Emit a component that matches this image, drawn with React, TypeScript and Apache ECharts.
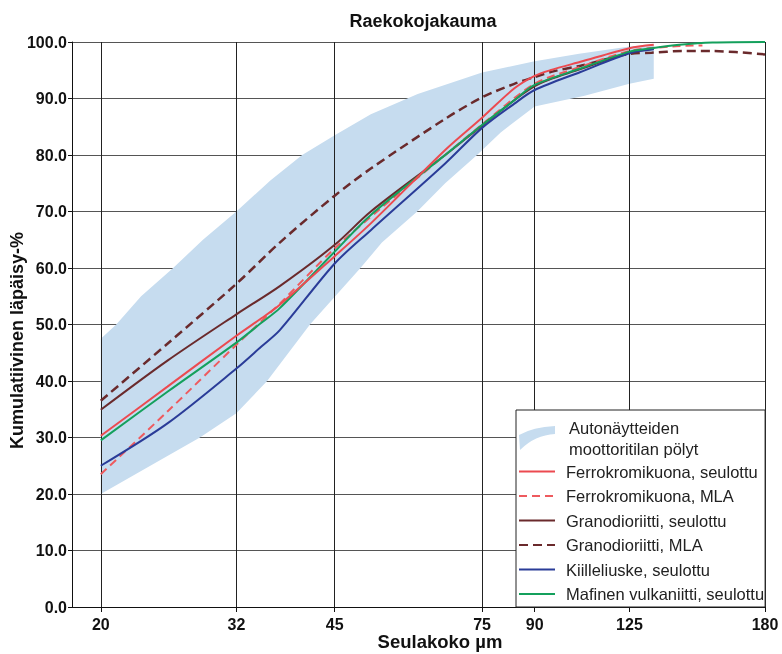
import React, { useEffect, useRef } from 'react';
import * as echarts from 'echarts';

const xTickValues = [20, 32, 45, 75, 90, 125, 200];
const xTickLabels = ['20', '32', '45', '75', '90', '125', '180'];

const bandName = 'Autonäytteiden moottoritilan pölyt';
const bandUpperX = [20, 21.1, 23, 25.7, 28.5, 32, 36, 40.2, 45, 51, 60, 75, 90, 105, 125, 136];
const bandUpperY = [47.5, 50, 55, 60, 65, 70, 75.5, 80, 83.5, 87.2, 90.8, 94.6, 96.6, 97.9, 99.2, 99.6];
const bandLowerX = [20, 24, 28.2, 32, 35.6, 41.3, 49.2, 53, 59.9, 66, 73.7, 80, 90, 107, 125, 136];
const bandLowerY = [20, 25.3, 30, 34.3, 40, 50, 60, 64.5, 70, 75, 80, 84, 88.6, 90.5, 92.6, 93.5];

const ferroSeulX = [20, 25.2, 32, 34.9, 37.2, 45, 51, 66, 75, 83.9, 90, 95, 105.5, 125, 136];
const ferroSeulY = [30.3, 39.0, 48.0, 51.1, 53.5, 62.1, 67.9, 80.9, 86.6, 91.8, 94.0, 95.0, 96.5, 98.9, 99.5];

const ferroMlaX = [20, 25.2, 32, 37.2, 45, 52.6, 66, 75, 90, 105.5, 125, 145, 161];
const ferroMlaY = [23.5, 34.6, 46.4, 53.7, 63.5, 70.4, 80.0, 85.4, 92.6, 95.6, 98.4, 99.2, 99.4];

const granoSeulX = [20, 25.2, 32, 37.2, 45, 51, 66, 75, 90, 105.5, 125, 136];
const granoSeulY = [34.9, 43.6, 51.8, 56.8, 64.1, 70.0, 80.0, 85.2, 92.2, 95.2, 98.1, 98.8];

const granoMlaX = [20, 25.2, 32, 37.2, 45, 51, 66, 75, 83.9, 90, 96, 105.5, 125, 135, 150, 166.7, 200];
const granoMlaY = [36.5, 46.6, 57.2, 64.5, 72.8, 77.6, 86.4, 90.2, 92.6, 93.8, 94.8, 95.8, 97.9, 98.1, 98.4, 98.4, 97.8];

const kiilleX = [20, 25.2, 32, 34.9, 37.2, 45, 51, 66, 75, 83.9, 90, 105.5, 125, 136];
const kiilleY = [25.0, 32.5, 42.2, 46.1, 49.0, 60.8, 66.7, 78.5, 84.8, 89.1, 91.5, 94.7, 98.0, 98.7];

const mafinenX = [20, 25.2, 32, 34.9, 37.2, 45, 51, 66, 75, 83.9, 90, 105.5, 125, 135, 148.6, 166.7, 200];
const mafinenY = [29.5, 38.1, 46.8, 50.3, 52.9, 62.9, 69.4, 80.0, 85.3, 89.7, 92.4, 95.3, 98.3, 98.9, 99.5, 99.9, 100];

const NAMES = {
  ferroSeul: 'Ferrokromikuona, seulottu',
  ferroMla: 'Ferrokromikuona, MLA',
  granoSeul: 'Granodioriitti, seulottu',
  granoMla: 'Granodioriitti, MLA',
  kiille: 'Kiilleliuske, seulottu',
  mafinen: 'Mafinen vulkaniitti, seulottu',
};

const COLORS = {
  band: '#c6dcef',
  red: '#ec4a50',
  redDash: '#ee5a5e',
  brown: '#6a2a2c',
  blue: '#2a3c98',
  green: '#14a05c',
};

export default function App() {
  const ref = useRef<HTMLDivElement>(null);

  useEffect(() => {
    if (!ref.current) return;
    const chart = echarts.init(ref.current, undefined, { renderer: 'svg' });
    const font = "'Liberation Sans', Arial, Helvetica, sans-serif";
    const pairs = (xs: number[], ys: number[]) => xs.map((x, i) => [x, ys[i]]);
    const line = (name: string, xs: number[], ys: number[], color: string, type: any, width: number) => ({
      name,
      type: 'line',
      data: pairs(xs, ys),
      smooth: 0.3,
      symbol: 'none',
      showSymbol: false,
      z: 4,
      lineStyle: { color, width, type },
      itemStyle: { color },
      emphasis: { disabled: true },
    });
    const legendLine = (name: string) => ({ name, itemStyle: { opacity: 0 } });

    chart.setOption({
      animation: false,
      title: {
        text: 'Raekokojakauma',
        left: 418,
        top: 7,
        textAlign: 'center',
        textStyle: { fontFamily: font, fontWeight: 'bold', fontSize: 18, color: '#111' },
      },
      grid: { left: 72, right: 17, top: 42, bottom: 47, containLabel: false, outerBoundsMode: 'none' },
      xAxis: {
        type: 'log',
        logBase: 10,
        min: 18.1,
        max: 200,
        z: 3,
        name: 'Seulakoko µm',
        nameLocation: 'middle',
        nameMoveOverlap: false,
        nameGap: 25,
        nameTextStyle: {
          fontFamily: font,
          fontWeight: 'bold',
          fontSize: 18.5,
          color: '#111',
          padding: [0, 0, 0, 43],
        },
        axisLine: { show: true, lineStyle: { color: '#111', width: 1 } },
        axisTick: { show: true, customValues: xTickValues, length: 5, lineStyle: { color: '#111' } },
        axisLabel: {
          customValues: xTickValues,
          margin: 9,
          fontFamily: font,
          fontWeight: 'bold',
          fontSize: 16,
          color: '#111',
          formatter: (v: number) => {
            const i = xTickValues.findIndex((t) => Math.abs(t - v) < 0.5);
            return i >= 0 ? xTickLabels[i] : '';
          },
        },
        splitLine: { show: true, lineStyle: { color: '#222', width: 1 } },
      },
      yAxis: {
        type: 'value',
        min: 0,
        max: 100,
        interval: 10,
        z: 0,
        name: 'Kumulatiivinen läpäisy-%',
        nameLocation: 'middle',
        nameMoveOverlap: false,
        nameGap: 46,
        nameTextStyle: {
          fontFamily: font,
          fontWeight: 'bold',
          fontSize: 18,
          color: '#111',
          padding: [0, 32, 0, 0],
        },
        axisLine: { show: true, lineStyle: { color: '#111', width: 1 } },
        axisTick: { show: true, length: 4, lineStyle: { color: '#111' } },
        axisLabel: {
          margin: 5,
          fontFamily: font,
          fontWeight: 'bold',
          fontSize: 16,
          color: '#111',
          formatter: (v: number) => v.toFixed(1),
        },
        splitLine: { show: true, lineStyle: { color: '#555', width: 1 } },
      },
      legend: {
        orient: 'vertical',
        left: 516,
        top: 410,
        z: 10,
        padding: [7, 1, 1, 2],
        itemGap: 0.5,
        itemWidth: 36,
        itemHeight: 24,
        backgroundColor: '#fff',
        borderColor: '#222',
        borderWidth: 1,
        borderRadius: 0,
        selectedMode: false,
        textStyle: { fontFamily: font, fontSize: 16.5, color: '#222', lineHeight: 24, padding: [0, 0, 0, 6] },
        formatter: (name: string) => (name === bandName ? 'Autonäytteiden\nmoottoritilan pölyt' : name),
        data: [
          {
            name: bandName,
            icon: 'path://M0,9 Q14,1 36,0 L36,8 Q16,9 1,24 Z',
            itemStyle: { color: COLORS.band, opacity: 1 },
            textStyle: { lineHeight: 21, padding: [0, 0, 0, 9] },
          },
          legendLine(NAMES.ferroSeul),
          legendLine(NAMES.ferroMla),
          legendLine(NAMES.granoSeul),
          legendLine(NAMES.granoMla),
          legendLine(NAMES.kiille),
          legendLine(NAMES.mafinen),
        ],
      },
      series: [
        {
          type: 'custom',
          name: bandName,
          coordinateSystem: 'cartesian2d',
          z: 2,
          silent: true,
          itemStyle: { color: COLORS.band },
          data: pairs(bandUpperX, bandUpperY),
          encode: { x: 0, y: 1 },
          renderItem: (params: any, api: any) => {
            if (params.dataIndex !== 0) return null;
            const pts: number[][] = [];
            bandUpperX.forEach((x, i) => pts.push(api.coord([x, bandUpperY[i]])));
            for (let i = bandLowerX.length - 1; i >= 0; i--) {
              pts.push(api.coord([bandLowerX[i], bandLowerY[i]]));
            }
            return { type: 'polygon', shape: { points: pts }, style: { fill: COLORS.band } };
          },
        },
        line(NAMES.granoSeul, granoSeulX, granoSeulY, COLORS.brown, 'solid', 2),
        line(NAMES.granoMla, granoMlaX, granoMlaY, COLORS.brown, [9, 5], 2.5),
        line(NAMES.ferroMla, ferroMlaX, ferroMlaY, COLORS.redDash, [8, 5], 2),
        line(NAMES.kiille, kiilleX, kiilleY, COLORS.blue, 'solid', 2),
        line(NAMES.mafinen, mafinenX, mafinenY, COLORS.green, 'solid', 2),
        line(NAMES.ferroSeul, ferroSeulX, ferroSeulY, COLORS.red, 'solid', 2),
      ],
    });

    return () => chart.dispose();
  }, []);

  return <div ref={ref} style={{ position: 'fixed', left: 0, top: 0, width: 782, height: 654 }} />;
}
